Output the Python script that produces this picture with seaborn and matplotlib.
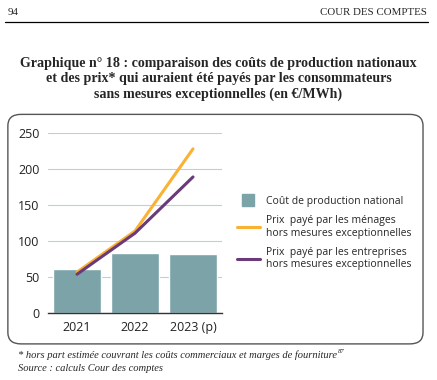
import matplotlib
matplotlib.use('Agg')
import numpy as np
import pandas as pd
import seaborn as sns
import matplotlib.pyplot as plt
from matplotlib.patches import FancyBboxPatch
from matplotlib.lines import Line2D

years = ['2021', '2022', '2023 (p)']
cout_production = [61, 83, 82]
prix_menages = [57, 114, 228]
prix_entreprises = [54, 111, 189]

c_bar = '#7ba3a8'
c_men = '#f9b233'
c_ent = '#6b3a7a'

sns.set_style('white')
plt.rcParams['font.family'] = ['Open Sans', 'DejaVu Sans']

fig = plt.figure(figsize=(4.37, 3.8), dpi=100)
fig.patch.set_facecolor('white')

# page header
fig.text(0.018, 0.966, '94', family='Liberation Serif', fontsize=7.8, va='center')
fig.text(0.977, 0.966, 'COUR DES COMPTES', family='Liberation Serif', fontsize=7.8,
         va='center', ha='right')
fig.add_artist(Line2D([0.012, 0.98], [0.942, 0.942], color='black', lw=0.9))

fig.text(0.5, 0.792, 'Graphique n° 18 : comparaison des coûts de production nationaux\n'
         'et des prix* qui auraient été payés par les consommateurs\n'
         'sans mesures exceptionnelles (en €/MWh)',
         family='Liberation Serif', fontweight='bold', fontsize=10.1, ha='center',
         va='center', linespacing=1.25)

# rounded frame
box = FancyBboxPatch((0.018, 0.095), 0.95, 0.604, transform=fig.transFigure,
                     boxstyle='round,pad=0,rounding_size=0.03', fill=False,
                     ec='#555555', lw=1.0)
fig.add_artist(box)

ax = fig.add_axes([0.11, 0.176, 0.398, 0.474])
df = pd.DataFrame({'annee': years, 'cout': cout_production})
sns.barplot(data=df, x='annee', y='cout', color=c_bar, saturation=1, width=0.82, ax=ax)
xpos = np.arange(len(years))
sns.lineplot(x=xpos, y=prix_menages, color=c_men, lw=2.2, ax=ax)
sns.lineplot(x=xpos, y=prix_entreprises, color=c_ent, lw=2.2, ax=ax)

ax.set_ylim(0, 250)
ax.set_xlim(-0.5, 2.5)
ax.set_yticks([0, 50, 100, 150, 200, 250])
ax.yaxis.grid(True, color='#c8ccd0', lw=0.8)
ax.set_axisbelow(True)
for s in ['left', 'right', 'top']:
    ax.spines[s].set_visible(False)
ax.spines['bottom'].set_color('#333333')
ax.spines['bottom'].set_linewidth(1.0)
ax.tick_params(axis='both', length=0, labelsize=9, colors='#222222', pad=6)
ax.set_xlabel('')
ax.set_ylabel('')

handles = [
    Line2D([], [], marker='s', ls='none', color=c_bar, markersize=8),
    Line2D([], [], color=c_men, lw=2.2),
    Line2D([], [], color=c_ent, lw=2.2),
]
labels = ['Coût de production national',
          'Prix  payé par les ménages\nhors mesures exceptionnelles',
          'Prix  payé par les entreprises\nhors mesures exceptionnelles']
fig.legend(handles, labels, loc='upper left', bbox_to_anchor=(0.52, 0.51),
           frameon=False, fontsize=7.5, handlelength=2.2, labelspacing=0.8,
           handletextpad=0.6)

note = fig.text(0.042, 0.066, '* hors part estimée couvrant les coûts commerciaux et marges de fourniture',
                family='Liberation Serif', style='italic', fontsize=7.6, va='center')
fig.canvas.draw()
bb = note.get_window_extent().transformed(fig.transFigure.inverted())
fig.text(bb.x1 + 0.002, 0.075, '87', family='Liberation Serif', style='italic',
         fontsize=4.8, va='center')
fig.text(0.042, 0.031, 'Source : calculs Cour des comptes',
         family='Liberation Serif', style='italic', fontsize=7.6, va='center')

fig.savefig('out.png', dpi=100)
